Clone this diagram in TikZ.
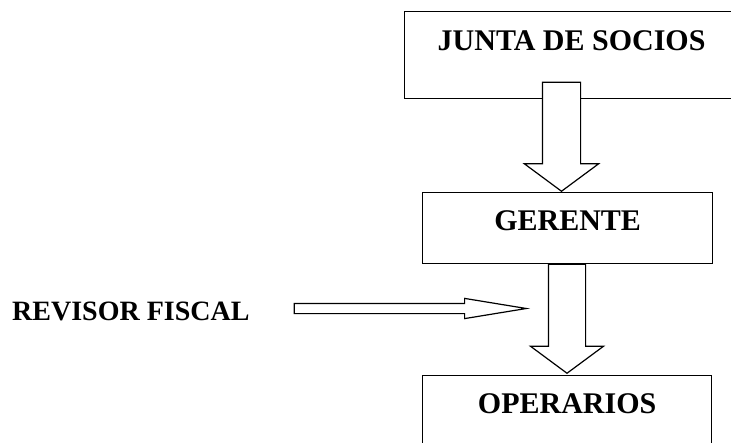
\documentclass[tikz,border=0pt]{standalone}
\usepackage{fontspec}
\setmainfont{Liberation Serif}
\usetikzlibrary{shapes.arrows}

\tikzset{
  cargo/.style={draw, line width=1.2pt, rectangle, inner sep=0pt, anchor=north west,
    font=\fontsize{30}{36}\selectfont\bfseries},
  flecha/.style={single arrow, draw, fill=white, line width=1.2pt, inner xsep=0pt, anchor=tip}
}

\begin{document}
\begin{tikzpicture}[x=1pt,y=-1pt]
  \useasboundingbox (0,0) rectangle (731,442);
  \clip (0,0) rectangle (731,442);
  % cargos
  \node[cargo, minimum width=334pt, text height=39pt, text depth=48pt] (junta) at (404,11) {JUNTA DE SOCIOS};
  \node[cargo, minimum width=290pt, text height=38pt, text depth=33pt] (gerente) at (422,192) {GERENTE};
  \node[cargo, minimum width=289pt, text height=38pt, text depth=40pt] (operarios) at (422,375) {OPERARIOS};
  \node[inner sep=0pt, anchor=base west, font=\fontsize{28}{34}\selectfont\bfseries] (revisor) at (12,320) {REVISOR FISCAL};
  % flechas (puestas por la punta)
  \node[flecha, rotate=-90, minimum height=109pt, inner ysep=18.5pt,
    single arrow head extend=18pt, single arrow tip angle=107] (baja1) at (561.5,192) {};
  \node[flecha, rotate=-90, minimum height=109pt, inner ysep=18pt,
    single arrow head extend=18pt, single arrow tip angle=107] (baja2) at (567,374) {};
  \node[flecha, minimum height=232pt, inner ysep=4.5pt,
    single arrow head extend=5pt, single arrow tip angle=18.6] (lateral) at (530,308.5) {};
\end{tikzpicture}
\end{document}
